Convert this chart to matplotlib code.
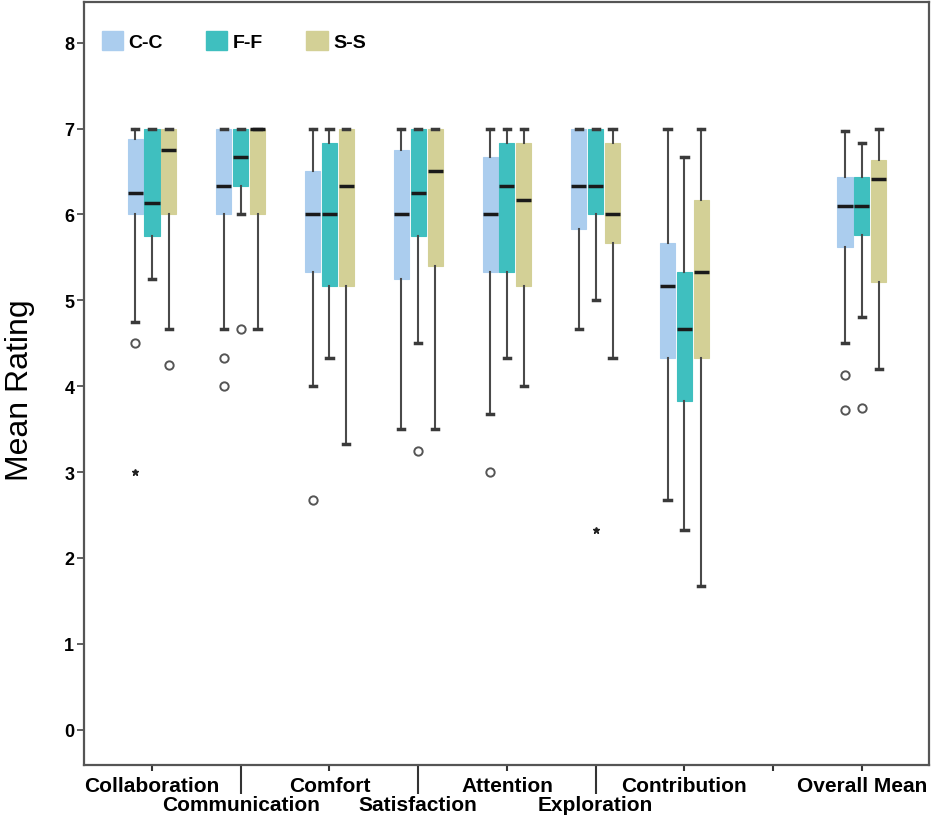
import matplotlib
import matplotlib.pyplot as plt
from matplotlib.patches import Patch

matplotlib.use("Agg")

plt.rcParams["font.family"] = ["Liberation Sans", "DejaVu Sans"]

# category slots on the x axis (slot 7 is empty in the original)
tick_labels = ["Collaboration", "Communication", "Comfort", "Satisfaction",
               "Attention", "Exploration", "Contribution", "", "Overall Mean"]
measure_slots = [0, 1, 2, 3, 4, 5, 6, 8]

groups = ["C-C", "F-F", "S-S"]
colors = ["#abcdee", "#3fbfbf", "#d3d096"]

# C-C
cc_whishi = [7.0, 7.0, 7.0, 7.0, 7.0, 7.0, 7.0, 6.97]
cc_q3 = [6.88, 7.0, 6.5, 6.75, 6.67, 7.0, 5.67, 6.44]
cc_med = [6.25, 6.33, 6.0, 6.0, 6.0, 6.33, 5.17, 6.1]
cc_q1 = [6.0, 6.0, 5.33, 5.25, 5.33, 5.83, 4.33, 5.62]
cc_whislo = [4.75, 4.67, 4.0, 3.5, 3.67, 4.67, 2.67, 4.5]
cc_out = [[4.5], [4.33, 4.0], [2.67], [], [3.0], [], [], [4.13, 3.72]]
cc_ext = [[3.0], [], [], [], [], [], [], []]

# F-F
ff_whishi = [7.0, 7.0, 7.0, 7.0, 7.0, 7.0, 6.67, 6.83]
ff_q3 = [7.0, 7.0, 6.83, 7.0, 6.83, 7.0, 5.33, 6.44]
ff_med = [6.13, 6.67, 6.0, 6.25, 6.33, 6.33, 4.67, 6.1]
ff_q1 = [5.75, 6.33, 5.17, 5.75, 5.33, 6.0, 3.83, 5.76]
ff_whislo = [5.25, 6.0, 4.33, 4.5, 4.33, 5.0, 2.33, 4.8]
ff_out = [[], [4.67], [], [3.25], [], [], [], [3.75]]
ff_ext = [[], [], [], [], [], [2.33], [], []]

# S-S
ss_whishi = [7.0, 7.0, 7.0, 7.0, 7.0, 7.0, 7.0, 7.0]
ss_q3 = [7.0, 7.0, 7.0, 7.0, 6.83, 6.83, 6.17, 6.63]
ss_med = [6.75, 7.0, 6.33, 6.5, 6.17, 6.0, 5.33, 6.41]
ss_q1 = [6.0, 6.0, 5.17, 5.4, 5.17, 5.67, 4.33, 5.21]
ss_whislo = [4.67, 4.67, 3.33, 3.5, 4.0, 4.33, 1.67, 4.2]
ss_out = [[4.25], [], [], [], [], [], [], []]
ss_ext = [[], [], [], [], [], [], [], []]

series = [
    (cc_whislo, cc_q1, cc_med, cc_q3, cc_whishi, cc_out, cc_ext),
    (ff_whislo, ff_q1, ff_med, ff_q3, ff_whishi, ff_out, ff_ext),
    (ss_whislo, ss_q1, ss_med, ss_q3, ss_whishi, ss_out, ss_ext),
]

fig = plt.figure(figsize=(9.44, 8.2), dpi=100)
ax = fig.add_axes([0.089, 0.066, 0.895, 0.930])

offsets = [-0.19, 0.0, 0.19]
for (lo, q1, med, q3, hi, out, ext), color, off in zip(series, colors, offsets):
    stats = [
        dict(whislo=lo[i], q1=q1[i], med=med[i], q3=q3[i], whishi=hi[i], fliers=out[i])
        for i in range(len(measure_slots))
    ]
    pos = [s + off for s in measure_slots]
    ax.bxp(
        stats, positions=pos, widths=0.17, patch_artist=True, manage_ticks=False,
        capwidths=0.07,
        boxprops=dict(facecolor=color, edgecolor=color, linewidth=0.8),
        whiskerprops=dict(color="#4a4a4a", linewidth=1.5),
        capprops=dict(color="#3a3a3a", linewidth=2.5),
        medianprops=dict(color="#1a1a1a", linewidth=2.5),
        flierprops=dict(marker="o", markersize=6, markerfacecolor="none",
                        markeredgecolor="#555555", markeredgewidth=1.4),
    )
    for p, e in zip(pos, ext):
        if e:
            ax.plot([p] * len(e), e, linestyle="none", marker="*", markersize=5,
                    color="#222222")

ax.set_xlim(-0.766, 8.755)
ax.set_ylim(-0.41, 8.47)

ax.set_yticks(range(0, 9))
ax.set_yticklabels([str(v) for v in range(0, 9)], fontsize=13, fontweight="bold")
ax.tick_params(axis="y", length=5, width=1.2, color="#444444", pad=2)

row1 = [i for i in range(9) if i % 2 == 0 or i == 7]
row2 = [1, 3, 5]
ax.set_xticks(row1)
ax.set_xticklabels([tick_labels[i] for i in row1], fontsize=15, fontweight="bold")
ax.set_xticks(row2, minor=True)
ax.set_xticklabels([tick_labels[i] for i in row2], minor=True, fontsize=15,
                   fontweight="bold")
ax.tick_params(axis="x", which="major", length=4, width=1.5, color="#333333", pad=4)
ax.tick_params(axis="x", which="minor", length=21, width=1.5, color="#333333", pad=1)

for sp in ax.spines.values():
    sp.set_color("#555555")
    sp.set_linewidth(1.6)

ax.set_ylabel("Mean Rating", fontsize=23)
ax.yaxis.set_label_coords(-0.058, 0.493)

handles = [Patch(facecolor=c, edgecolor=c) for c in colors]
ax.legend(handles, groups, loc="upper left", bbox_to_anchor=(0.0, 0.985), ncol=3,
          frameon=False, prop=dict(size=14, weight="bold"), handlelength=1.1,
          handleheight=1.1, handletextpad=0.3, columnspacing=2.2)

plt.savefig("out.png", dpi=100)
plt.close(fig)
